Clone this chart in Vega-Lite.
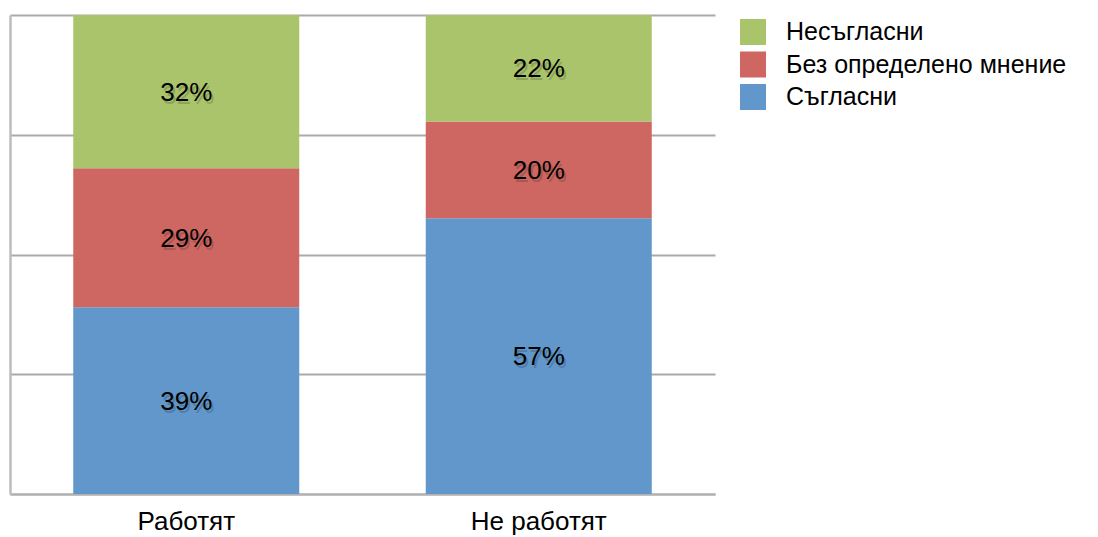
{
  "$schema": "https://vega.github.io/schema/vega-lite/v6.json",
  "autosize": "none",
  "width": 705,
  "height": 479,
  "padding": {"left": 10, "top": 15, "right": 383, "bottom": 43},
  "background": "white",
  "config": {
    "view": {"stroke": null},
    "font": "Liberation Sans"
  },
  "data": {
    "values": [
      {"g": "Работят", "s": "Съгласни", "o": 1, "v": 39},
      {"g": "Работят", "s": "Без определено мнение", "o": 2, "v": 29},
      {"g": "Работят", "s": "Несъгласни", "o": 3, "v": 32},
      {"g": "Не работят", "s": "Съгласни", "o": 1, "v": 57},
      {"g": "Не работят", "s": "Без определено мнение", "o": 2, "v": 20},
      {"g": "Не работят", "s": "Несъгласни", "o": 3, "v": 22}
    ]
  },
  "transform": [
    {"stack": "v", "groupby": ["g"], "sort": [{"field": "o", "order": "ascending"}], "offset": "normalize", "as": ["y0", "y1"]},
    {"calculate": "(datum.y0 + datum.y1) / 2", "as": "mid"},
    {"calculate": "datum.v + '%'", "as": "label"}
  ],
  "encoding": {
    "x": {
      "field": "g",
      "type": "nominal",
      "sort": ["Работят", "Не работят"],
      "scale": {"paddingInner": 0, "paddingOuter": 0},
      "axis": {
        "title": null,
        "labelAngle": 0,
        "labelFontSize": 26,
        "labelColor": "#000",
        "labelPadding": 14,
        "ticks": false,
        "domainColor": "#b0b0b0",
        "domainWidth": 2,
        "grid": false
      }
    }
  },
  "layer": [
    {
      "mark": {"type": "bar", "size": 226},
      "encoding": {
        "y": {
          "field": "y0",
          "type": "quantitative",
          "scale": {"domain": [0, 1], "nice": false},
          "axis": {
            "title": null,
            "labels": false,
            "ticks": false,
            "values": [0, 0.25, 0.5, 0.75, 1],
            "grid": true,
            "gridColor": "#aaaaaa",
            "gridWidth": 2,
            "domainColor": "#bdbdbd",
            "domainWidth": 2.5
          }
        },
        "y2": {"field": "y1"},
        "color": {
          "field": "s",
          "type": "nominal",
          "scale": {
            "domain": ["Несъгласни", "Без определено мнение", "Съгласни"],
            "range": ["#aac46c", "#ce6761", "#6197ca"]
          },
          "legend": {
            "title": null,
            "orient": "none",
            "legendX": 730,
            "legendY": 4,
            "symbolType": "square",
            "symbolSize": 676,
            "symbolStrokeWidth": 0,
            "labelFontSize": 25,
            "labelColor": "#000",
            "labelOffset": 20,
            "rowPadding": 6.5,
            "labelLimit": 400
          }
        }
      }
    },
    {
      "mark": {"type": "text", "fontSize": 26, "color": "#000", "opacity": 0.16, "dx": 2, "dy": 4},
      "encoding": {
        "y": {"field": "mid", "type": "quantitative"},
        "text": {"field": "label"}
      }
    },
    {
      "mark": {"type": "text", "fontSize": 26, "color": "#000", "dy": 1},
      "encoding": {
        "y": {"field": "mid", "type": "quantitative"},
        "text": {"field": "label"}
      }
    }
  ]
}
